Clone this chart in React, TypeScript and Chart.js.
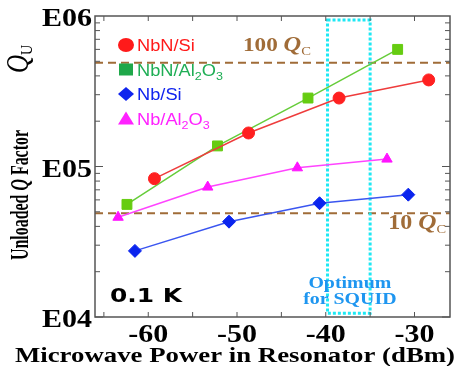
import React, { useEffect, useRef } from 'react';
import { Chart, registerables } from 'chart.js';

Chart.register(...registerables);

// ---- data ----
const seriesLabels = ['NbN/Si', 'NbN/Al2O3', 'Nb/Si', 'Nb/Al2O3'];

const nbnSiPower = [-59.3, -48.7, -38.5, -28.4];
const nbnSiQ = [83000, 167000, 285000, 376000];

const nbnAlPower = [-62.4, -52.2, -42.0, -31.9];
const nbnAlQ = [56000, 137000, 285000, 600000];

const nbSiPower = [-61.5, -50.9, -40.7, -30.7];
const nbSiQ = [27500, 43000, 57000, 65000];

const nbAlPower = [-63.4, -53.3, -43.2, -33.1];
const nbAlQ = [46000, 73000, 98000, 112000];

const xMin = -66;
const xMax = -26;
const xTickValues = [-65, -60, -55, -50, -45, -40, -35, -30];
const xLabelValues = [-60, -50, -40, -30];
const xLabels = ['-60', '-50', '-40', '-30'];

const yMin = 1e4;
const yMax = 1e6;
const yLabelValues = [1e4, 1e5, 1e6];
const yLabels = ['E04', 'E05', 'E06'];

const qcLevels = [4.9e4, 4.9e5]; // 10 Qc, 100 Qc
const optimumPower = [-39.8, -35.0];
const optimumQ = [1.06e4, 9.4e5];

const xTitle = 'Microwave Power in Resonator (dBm)';
const tempLabel = '0.1 K';
const optimumLines = ['Optimum', 'for SQUID'];

// ---- styles ----
const colors = {
  red: '#ff2020',
  redLine: '#ee3c3c',
  green: '#66cc11',
  greenLine: '#66cc3a',
  blue: '#0a24ee',
  blueLine: '#3a55f0',
  magenta: '#ff14ff',
  magentaLine: '#ff44ff',
  brown: '#a06c38',
  cyan: '#1ee8f4',
  optimum: '#1e96f0',
  frame: '#555555',
};
const legendColors = ['#ff1a1a', '#1fae55', '#1024ee', '#ff22ff'];
const legendMarkerColors = ['#ff1a1a', '#1fa84a', '#1024ee', '#ff22ff'];

const SERIF = '"Liberation Serif", "Times New Roman", serif';
const SANS = '"Liberation Sans", Arial, sans-serif';

type Seg = { t: string; font: string; dy?: number };

function segWidth(ctx: CanvasRenderingContext2D, segs: Seg[]) {
  let w = 0;
  for (const s of segs) {
    ctx.font = s.font;
    w += ctx.measureText(s.t).width;
  }
  return w;
}

function drawRich(
  ctx: CanvasRenderingContext2D,
  segs: Seg[],
  x: number,
  y: number,
  color: string,
  opts: { align?: 'left' | 'center' | 'right'; hscale?: number; width?: number } = {}
) {
  const raw = segWidth(ctx, segs);
  const hs = opts.width ? opts.width / raw : opts.hscale || 1;
  const total = raw * hs;
  let sx = x;
  if (opts.align === 'center') sx = x - total / 2;
  else if (opts.align === 'right') sx = x - total;
  ctx.save();
  ctx.translate(sx, y);
  ctx.scale(hs, 1);
  ctx.fillStyle = color;
  ctx.textAlign = 'left';
  ctx.textBaseline = 'alphabetic';
  let cx = 0;
  for (const s of segs) {
    ctx.font = s.font;
    ctx.fillText(s.t, cx, s.dy || 0);
    cx += ctx.measureText(s.t).width;
  }
  ctx.restore();
}

function chemSegs(label: string, size: number): Seg[] {
  const parts = label.split(/(\d+)/);
  const segs: Seg[] = [];
  parts.forEach((p, i) => {
    if (!p) return;
    if (i % 2 === 1) segs.push({ t: p, font: `${Math.round(size * 0.68)}px ${SANS}`, dy: size * 0.28 });
    else segs.push({ t: p, font: `${size}px ${SANS}` });
  });
  return segs;
}

function drawMarker(ctx: CanvasRenderingContext2D, kind: number, x: number, y: number, color: string) {
  ctx.save();
  ctx.fillStyle = color;
  ctx.beginPath();
  if (kind === 0) {
    ctx.ellipse(x, y, 8, 7, 0, 0, Math.PI * 2);
  } else if (kind === 1) {
    ctx.rect(x - 7, y - 6, 14, 12);
  } else if (kind === 2) {
    ctx.moveTo(x - 8, y);
    ctx.lineTo(x, y - 7);
    ctx.lineTo(x + 8, y);
    ctx.lineTo(x, y + 7);
    ctx.closePath();
  } else {
    ctx.moveTo(x - 8, y + 6);
    ctx.lineTo(x, y - 7);
    ctx.lineTo(x + 8, y + 6);
    ctx.closePath();
  }
  ctx.fill();
  ctx.restore();
}

const decorPlugin = {
  id: 'decor',
  beforeDatasetsDraw(chart: any) {
    const { ctx, chartArea: a, scales } = chart;
    const xs = scales.x;
    const ys = scales.y;
    ctx.save();
    // dashed Qc lines
    ctx.strokeStyle = colors.brown;
    ctx.lineWidth = 2;
    ctx.setLineDash([8, 5]);
    for (const q of qcLevels) {
      const py = ys.getPixelForValue(q);
      ctx.beginPath();
      ctx.moveTo(a.left, py);
      ctx.lineTo(a.right, py);
      ctx.stroke();
    }
    // optimum rectangle
    ctx.strokeStyle = colors.cyan;
    ctx.lineWidth = 3;
    ctx.setLineDash([3, 2]);
    const x1 = xs.getPixelForValue(optimumPower[0]);
    const x2 = xs.getPixelForValue(optimumPower[1]);
    const y1 = ys.getPixelForValue(optimumQ[1]);
    const y2 = ys.getPixelForValue(optimumQ[0]);
    ctx.strokeRect(x1, y1, x2 - x1, y2 - y1);
    ctx.restore();
  },
  afterDraw(chart: any) {
    const { ctx, chartArea: a, scales } = chart;
    const xs = scales.x;
    const ys = scales.y;
    ctx.save();
    // frame
    ctx.strokeStyle = colors.frame;
    ctx.lineWidth = 1.5;
    ctx.setLineDash([]);
    ctx.strokeRect(a.left, a.top, a.right - a.left, a.bottom - a.top);
    // x ticks (inward, top and bottom)
    ctx.lineWidth = 1;
    ctx.beginPath();
    for (const v of xTickValues) {
      const px = xs.getPixelForValue(v);
      ctx.moveTo(px, a.bottom);
      ctx.lineTo(px, a.bottom - 5);
      ctx.moveTo(px, a.top);
      ctx.lineTo(px, a.top + 5);
    }
    // y ticks (log, inward, left and right)
    for (let e = 4; e < 6; e++) {
      for (let k = 1; k <= 9; k++) {
        const v = k * Math.pow(10, e);
        const py = ys.getPixelForValue(v);
        const len = k === 1 ? 8 : 5;
        ctx.moveTo(a.left, py);
        ctx.lineTo(a.left + len, py);
        ctx.moveTo(a.right, py);
        ctx.lineTo(a.right - len, py);
      }
    }
    ctx.stroke();
    ctx.restore();

    // tick labels
    xLabelValues.forEach((v, i) => {
      drawRich(ctx, [{ t: xLabels[i], font: `bold 25px ${SERIF}` }], xs.getPixelForValue(v), a.bottom + 25, '#000', {
        align: 'center',
        hscale: 1.2,
      });
    });
    yLabelValues.forEach((v, i) => {
      drawRich(ctx, [{ t: yLabels[i], font: `bold 25px ${SERIF}` }], a.left - 3, ys.getPixelForValue(v) + 10, '#000', {
        align: 'right',
        hscale: 1.2,
      });
    });

    // x title
    drawRich(ctx, [{ t: xTitle, font: `bold 21px ${SERIF}` }], 235, 362, '#000', { align: 'center', width: 440 });

    // y title (rotated)
    ctx.save();
    ctx.translate(28, 260);
    ctx.rotate(-Math.PI / 2);
    ctx.scale(1, 1.25);
    drawRich(
      ctx,
      [
        { t: 'Unloaded ', font: `bold 20px ${SERIF}` },
        { t: 'Q', font: `bold italic 20px ${SERIF}` },
        { t: ' Factor', font: `bold 20px ${SERIF}` },
      ],
      0,
      0,
      '#000',
      { width: 130 }
    );
    drawRich(
      ctx,
      [
        { t: 'Q', font: `italic 25px ${SERIF}` },
        { t: 'U', font: `14px ${SERIF}`, dy: 3 },
      ],
      187,
      0,
      '#000'
    );
    ctx.restore();

    // legend
    seriesLabels.forEach((lab, i) => {
      const cy = 45 + i * 24.5;
      drawMarker(ctx, i, 126, cy, legendMarkerColors[i]);
      drawRich(ctx, chemSegs(lab, 16), 137, cy + 6, legendColors[i], { hscale: 1.14 });
    });

    // Qc annotations
    const p100 = ys.getPixelForValue(qcLevels[1]);
    drawRich(
      ctx,
      [
        { t: '100 ', font: `bold 19px ${SERIF}` },
        { t: 'Q', font: `bold italic 20px ${SERIF}` },
        { t: 'C', font: `12px ${SERIF}`, dy: 4 },
      ],
      243,
      p100 - 12,
      colors.brown,
      { hscale: 1.22 }
    );
    const p10 = ys.getPixelForValue(qcLevels[0]);
    drawRich(
      ctx,
      [
        { t: '10 ', font: `bold 20px ${SERIF}` },
        { t: 'Q', font: `bold italic 21px ${SERIF}` },
        { t: 'C', font: `12px ${SERIF}`, dy: 4 },
      ],
      a.right - 4,
      p10 + 16,
      colors.brown,
      { align: 'right', hscale: 1.2 }
    );

    // optimum text
    const cx = (xs.getPixelForValue(optimumPower[0]) + xs.getPixelForValue(optimumPower[1])) / 2;
    drawRich(ctx, [{ t: optimumLines[0], font: `bold 17px ${SERIF}` }], cx + 1, a.bottom - 29, colors.optimum, {
      align: 'center',
      hscale: 1.17,
    });
    drawRich(ctx, [{ t: optimumLines[1], font: `bold 17px ${SERIF}` }], cx + 1, a.bottom - 13, colors.optimum, {
      align: 'center',
      hscale: 1.17,
    });

    // temperature label
    drawRich(ctx, [{ t: tempLabel, font: `bold 20px "DejaVu Sans", sans-serif` }], 110, 302, '#000', { width: 72 });
  },
};

function pts(xs: number[], ys: number[]) {
  return xs.map((x, i) => ({ x, y: ys[i] }));
}

export default function App() {
  const ref = useRef<HTMLCanvasElement | null>(null);
  useEffect(() => {
    if (!ref.current) return;
    const mk = (label: string, data: any[], line: string, fill: string, style: string, r: number) => ({
      label,
      data,
      borderColor: line,
      backgroundColor: fill,
      pointBackgroundColor: fill,
      pointBorderColor: fill,
      pointBorderWidth: 1,
      pointStyle: style,
      pointRadius: r,
      borderWidth: 1.5,
      tension: 0,
      fill: false,
      showLine: true,
    });
    const chart = new Chart(ref.current, {
      type: 'line',
      data: {
        datasets: [
          mk(seriesLabels[0], pts(nbnSiPower, nbnSiQ), colors.redLine, colors.red, 'circle', 6),
          mk(seriesLabels[1], pts(nbnAlPower, nbnAlQ), colors.greenLine, colors.green, 'rect', 7),
          mk(seriesLabels[2], pts(nbSiPower, nbSiQ), colors.blueLine, colors.blue, 'rectRot', 6.5),
          mk(seriesLabels[3], pts(nbAlPower, nbAlQ), colors.magentaLine, colors.magenta, 'triangle', 6),
        ] as any,
      },
      options: {
        animation: false,
        responsive: true,
        maintainAspectRatio: false,
        layout: { padding: { left: 0, right: 6, top: 16, bottom: 0 } },
        plugins: {
          legend: { display: false },
          tooltip: { enabled: false },
          title: { display: false },
        },
        scales: {
          x: {
            type: 'linear',
            min: xMin,
            max: xMax,
            ticks: { display: false },
            grid: { display: false },
            border: { display: false },
            afterFit: (s: any) => {
              s.height = 49;
            },
          },
          y: {
            type: 'logarithmic',
            min: yMin,
            max: yMax,
            ticks: { display: false },
            grid: { display: false },
            border: { display: false },
            afterFit: (s: any) => {
              s.width = 95;
            },
          },
        },
      } as any,
      plugins: [decorPlugin],
    });
    return () => chart.destroy();
  }, []);
  return (
    <div style={{ position: 'fixed', left: 0, top: 0, width: 458, height: 366, background: '#fff' }}>
      <canvas ref={ref} />
    </div>
  );
}
